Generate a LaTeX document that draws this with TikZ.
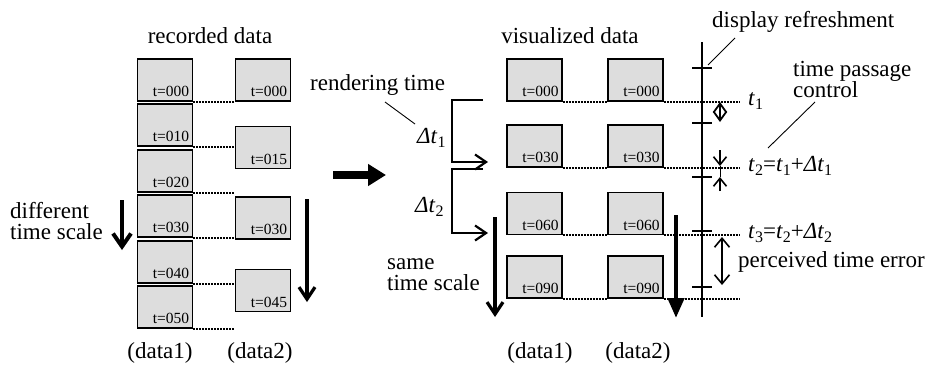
\documentclass[tikz,border=0pt]{standalone}
\usepackage{fontspec}
\setmainfont{Liberation Serif}
\usetikzlibrary{arrows.meta}
\newcommand{\ix}[1]{\raisebox{-0.45ex}{\fontsize{16}{16}\selectfont #1}}
\begin{document}
\begin{tikzpicture}[x=1pt,y=-1pt,
  box/.style={draw, line width=1.6pt, fill=gray!27, minimum width=55pt, minimum height=42pt, inner sep=0pt},
  tlab/.style={font=\fontsize{15.5}{15.5}\selectfont, anchor=base east, inner sep=0pt},
  dots/.style={line width=2.2pt, dash pattern=on 1.8pt off 1.2pt},
  txt/.style={font=\fontsize{23}{20}\selectfont, inner sep=0pt, anchor=base west},
  mtxt/.style={font=\fontsize{23}{21}\selectfont, inner sep=0pt, anchor=base west, align=left},
  ctxt/.style={font=\fontsize{23}{20}\selectfont, inner sep=0pt, anchor=base},
  lead/.style={line width=0.9pt},
  barb/.style={-{Straight Barb[length=12pt,width=16pt]}},
]
\useasboundingbox (0,0) rectangle (929,365);

% ---------------- recorded data ----------------
\node[ctxt] (rec) at (210,43) {recorded data};
\foreach \n/\y/\t in {a/80/000, b/125/010, c/171/020, d/216/030, e/262/040, f/307/050}{
  \node[box] (ra\n) at (165,\y) {};
  \node[tlab] (ra\n-t) at ([xshift=-4pt,yshift=5pt]ra\n.south east) {t=\t};
}
\foreach \n/\y/\t in {a/80/000, b/147.5/015, c/218/030, d/290.5/045}{
  \node[box] (rb\n) at (263,\y) {};
  \node[tlab] (rb\n-t) at ([xshift=-4pt,yshift=5pt]rb\n.south east) {t=\t};
}
\draw[dots] (raa.south east) -- (rba.south west);
\draw[dots] (rab.south east) -- (rab.south east -| rbb.west);
\draw[dots] (rac.south east) -- (rac.south east -| rbb.west);
\draw[dots] (rad.south east) -- (rad.south east -| rbc.west);
\draw[dots] (rae.south east) -- (rae.south east -| rbd.west);
\draw[dots] (raf.south east) -- (raf.south east -| rbd.west);

\node[ctxt] (rd1) at (160,358) {(data1)};
\node[ctxt] (rd2) at (260,358) {(data2)};

\node[mtxt] (diff) at (10,239) {different\\time scale};
\coordinate (da1) at (122,200);
\coordinate (da2) at (122,250);
\draw[line width=4pt, -{Straight Barb[length=13pt,width=18pt]}] (da1) -- (da2);
\coordinate (db1) at (307,199);
\coordinate (db2) at (307,302);
\draw[line width=3.2pt, barb] (db1) -- (db2);

% big arrow
\coordinate (ba1) at (333,175);
\coordinate (ba2) at (386,175);
\draw[line width=8pt, -{Triangle[length=18pt,width=21pt]}] (ba1) -- (ba2);

% ---------------- rendering time ----------------
\node[txt] (rend) at (310,90) {rendering time};
\node[txt] (dt1) at (417,143) {\textit{Δt}\ix{1}};
\node[txt] (dt2) at (415,212) {\textit{Δt}\ix{2}};
\coordinate (rl1) at (385,102);
\coordinate (rl2) at (415,124);
\draw[lead] (rl1) -- (rl2);

\coordinate (b1s) at (483,100);
\coordinate (b1c) at (452,100);
\coordinate (b1d) at (452,162);
\coordinate (b1e) at (488,162);
\draw[line width=2.2pt, -{Straight Barb[length=11pt,width=15pt]}] (b1s) -- (b1c) -- (b1d) -- (b1e);
\coordinate (b2s) at (483,169);
\coordinate (b2c) at (452,169);
\coordinate (b2d) at (452,233);
\coordinate (b2e) at (488,233);
\draw[line width=2.2pt, -{Straight Barb[length=11pt,width=15pt]}] (b2s) -- (b2c) -- (b2d) -- (b2e);

\node[mtxt] (same) at (387,290) {same\\time scale};
\coordinate (sa1) at (495,217);
\coordinate (sa2) at (495,317);
\draw[line width=3.2pt, barb] (sa1) -- (sa2);

% ---------------- visualized data ----------------
\node[ctxt] (vis) at (570,43) {visualized data};
\coordinate (dotend) at (740,0);
\foreach \n/\y/\t in {a/80/000, b/146/030, c/213.5/060, d/277/090}{
  \node[box] (va\n) at (534.5,\y) {};
  \node[tlab] (va\n-t) at ([xshift=-4pt,yshift=5pt]va\n.south east) {t=\t};
  \node[box] (vb\n) at (635.5,\y) {};
  \node[tlab] (vb\n-t) at ([xshift=-4pt,yshift=5pt]vb\n.south east) {t=\t};
  \draw[dots] (va\n.south east) -- (vb\n.south west);
  \draw[dots] (vb\n.south east) -- (vb\n.south east -| dotend);
}
\node[ctxt] (vd1) at (540,358) {(data1)};
\node[ctxt] (vd2) at (638,358) {(data2)};

\coordinate (ta1) at (676,215);
\coordinate (ta2) at (676,318);
\draw[line width=4.5pt, -{Triangle[length=20pt,width=16pt]}] (ta1) -- (ta2);

% display line
\coordinate (dtop) at (702,42);
\coordinate (dbot) at (702,317);
\draw[line width=1.6pt] (dtop) -- (dbot);
\foreach \y in {68,123,177,231,287}{
  \draw[line width=1.6pt] (692,\y) -- (712,\y);
}
\node[txt] (disp) at (712,27) {display refreshment};
\coordinate (dl1) at (735,38);
\coordinate (dl2) at (708,65);
\draw[lead] (dl1) -- (dl2);

\node[mtxt] (tp) at (793,97) {time passage\\control};
\coordinate (tl1) at (815,102);
\coordinate (tl2) at (768,148);
\draw[lead] (tl1) -- (tl2);

\node[txt] (t1) at (748,105) {\textit{t}\ix{1}};
\node[txt] (t2) at (748,171) {\textit{t}\ix{2}=\textit{t}\ix{1}+\textit{Δt}\ix{1}};
\node[txt] (t3) at (748,238) {\textit{t}\ix{3}=\textit{t}\ix{2}+\textit{Δt}\ix{2}};
\node[txt] (pte) at (738,267) {perceived time error};

% small arrows
\coordinate (s1a) at (720,102);
\coordinate (s1b) at (720,122);
\draw[line width=1.8pt, {Straight Barb[length=9pt,width=13pt]}-{Straight Barb[length=9pt,width=13pt]}] (s1a) -- (s1b);
\coordinate (s2a) at (720,150);
\coordinate (s2b) at (720,166);
\coordinate (s2c) at (720,177);
\coordinate (s2d) at (720,191);
\draw[line width=1.6pt, -{Straight Barb[length=8pt,width=13pt]}] (s2a) -- (s2b);
\draw[line width=1pt] (s2b) -- (s2c);
\draw[line width=1.6pt, -{Straight Barb[length=8pt,width=13pt]}] (s2d) -- (s2c);
\coordinate (s3a) at (722,237);
\coordinate (s3b) at (722,285);
\draw[line width=1.6pt, {Straight Barb[length=9pt,width=15pt]}-{Straight Barb[length=9pt,width=15pt]}] (s3a) -- (s3b);
\end{tikzpicture}
\end{document}
